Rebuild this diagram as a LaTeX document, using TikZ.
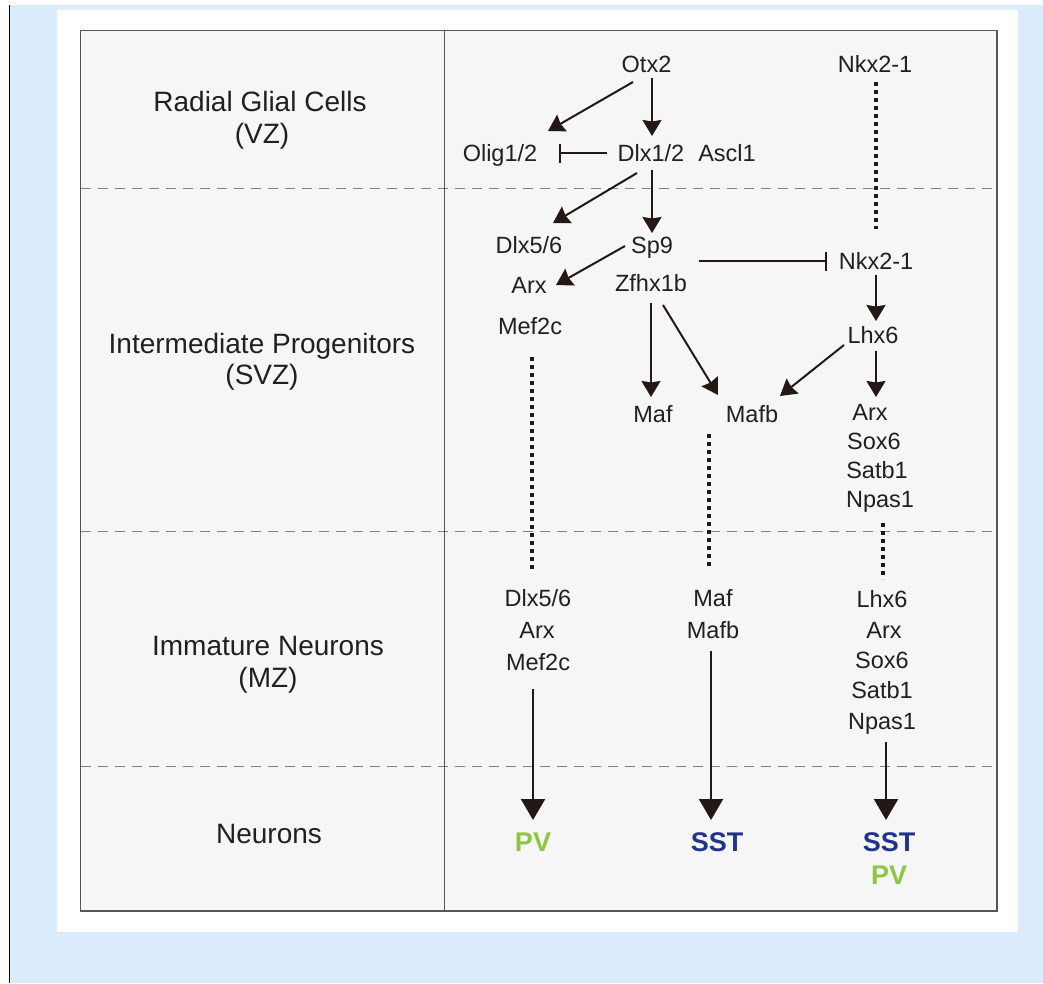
\documentclass[tikz,border=0pt]{standalone}
\usepackage{fontspec}
\setmainfont{Liberation Sans}
\usetikzlibrary{arrows.meta}
\definecolor{bgblue}{HTML}{DBECFC}
\definecolor{boxgrey}{HTML}{F6F6F6}
\definecolor{boxborder}{HTML}{555555}
\definecolor{dashgrey}{HTML}{808080}
\definecolor{ink}{HTML}{231815}
\definecolor{txt}{HTML}{231F20}
\definecolor{pvgreen}{HTML}{8DC63F}
\definecolor{sstblue}{HTML}{21338E}
\tikzset{
  lab/.style={font=\fontsize{23.5}{28}\selectfont, inner sep=0pt, text height=16.8pt, text depth=0pt, text=txt},
  biglab/.style={font=\fontsize{28}{32}\selectfont, inner sep=0pt, text height=20pt, text depth=0pt, text=txt},
  boldlab/.style={font=\fontsize{27}{30}\selectfont\bfseries, inner sep=0pt, text height=19.4pt, text depth=0pt},
  arr/.style={draw=ink, line width=2pt, -{Stealth[length=16pt,width=19pt,inset=1.5pt]}},
  inh/.style={draw=ink, line width=2pt, -{Bar[width=19pt,line width=2pt]}},
  dotl/.style={draw=ink, line width=3.4pt, dash pattern=on 4pt off 4pt},
  bigarr/.style={draw=ink, line width=2.2pt, -{Triangle[length=21pt,width=24pt]}},
  sep/.style={draw=dashgrey, line width=1pt, dash pattern=on 10pt off 7pt},
}
\begin{document}
\begin{tikzpicture}[x=1pt,y=-1pt]
\useasboundingbox (0,0) rectangle (1043,983);
\fill[white] (0,0) rectangle (1043,983);
\fill[bgblue] (10,5) rectangle (1043,983);
\draw[black, line width=1.5pt] (9.5,5) -- (9.5,983);
\fill[white] (57,10) rectangle (1018,932);
\draw[fill=boxgrey, draw=boxborder, line width=1.5pt] (80.5,30.5) rectangle (997,911);
\draw[sep] (81,188) -- (996,188);
\draw[sep] (81,531) -- (996,531);
\draw[sep] (81,766) -- (996,766);
\draw[draw=boxborder, line width=0.9pt] (444,31) -- (444,910);

% left labels
\node[biglab] (rgc) at (260,101) {Radial Glial Cells};
\node[biglab] (vz) at (262,133) {(VZ)};
\node[biglab] (ip) at (262,343) {Intermediate Progenitors};
\node[biglab] (svz) at (262,374) {(SVZ)};
\node[biglab] (imn) at (268,645) {Immature Neurons};
\node[biglab] (mz) at (268,677) {(MZ)};
\node[biglab] (neu) at (269,833) {Neurons};

% right labels
\node[lab] (otx2) at (646.5,64) {Otx2};
\node[lab] (nkxtop) at (875,64) {Nkx2-1};
\node[lab] (olig) at (500,153) {Olig1/2};
\node[lab] (dlx12) at (651,153) {Dlx1/2};
\node[lab] (ascl1) at (727,153) {Ascl1};
\node[lab] (dlx56a) at (529,245) {Dlx5/6};
\node[lab] (sp9) at (652,245) {Sp9};
\node[lab] (arxa) at (529,285) {Arx};
\node[lab] (zfhx) at (651,283) {Zfhx1b};
\node[lab] (nkx2) at (876,261) {Nkx2-1};
\node[lab] (mef2ca) at (530,326) {Mef2c};
\node[lab] (lhx6a) at (873,335) {Lhx6};
\node[lab] (mafa) at (653,414) {Maf};
\node[lab] (mafba) at (752,414) {Mafb};
\node[lab] (arxb) at (870,412) {Arx};
\node[lab] (sox6a) at (874,441) {Sox6};
\node[lab] (satb1a) at (877,470) {Satb1};
\node[lab] (npas1a) at (880,499) {Npas1};
\node[lab] (dlx56b) at (538,598) {Dlx5/6};
\node[lab] (arxc) at (537,630) {Arx};
\node[lab] (mef2cb) at (538,662) {Mef2c};
\node[lab] (mafb) at (713,598) {Maf};
\node[lab] (mafbb) at (713,630) {Mafb};
\node[lab] (lhx6b) at (882,599) {Lhx6};
\node[lab] (arxd) at (884,630) {Arx};
\node[lab] (sox6b) at (882,660) {Sox6};
\node[lab] (satb1b) at (882,690) {Satb1};
\node[lab] (npas1b) at (882,721) {Npas1};
\node[boldlab, text=pvgreen] (pv1) at (533,842) {PV};
\node[boldlab, text=sstblue] (sst1) at (717,842) {SST};
\node[boldlab, text=sstblue] (sst2) at (889,842) {SST};
\node[boldlab, text=pvgreen] (pv2) at (889,875) {PV};

% connectors
\draw[arr] ([shift={(-13.5,18)}]otx2.center) -- ([shift={(48,-22)}]olig.center);
\draw[arr] ([shift={(5.5,14)}]otx2.center) -- ([shift={(1,-17)}]dlx12.center);
\draw[inh] ([shift={(-44,0)}]dlx12.center) -- ([shift={(59,0)}]olig.center);
\draw[arr] ([shift={(-14,20)}]dlx12.center) -- ([shift={(24,-22)}]dlx56a.center);
\draw[arr] ([shift={(1,17)}]dlx12.center) -- ([shift={(0,-12)}]sp9.center);
\draw[arr] ([shift={(-27,1)}]sp9.center) -- ([shift={(27,0)}]arxa.center);
\draw[inh] ([shift={(47,16)}]sp9.center) -- ([shift={(-49,0)}]nkx2.center);
\draw[arr] ([shift={(0,20)}]zfhx.center) -- ([shift={(-2,-17)}]mafa.center);
\draw[arr] ([shift={(12,22)}]zfhx.center) -- ([shift={(-34,-19)}]mafba.center);
\draw[arr] ([shift={(-29,10)}]lhx6a.center) -- ([shift={(28,-18)}]mafba.center);
\draw[arr] ([shift={(0,14)}]nkx2.center) -- ([shift={(3,-14)}]lhx6a.center);
\draw[arr] ([shift={(3,16)}]lhx6a.center) -- ([shift={(6,-15)}]arxb.center);

\draw[dotl] ([shift={(1,18)}]nkxtop.center) -- ([shift={(0,-32)}]nkx2.center);
\draw[dotl] ([shift={(2,31)}]mef2ca.center) -- ([shift={(-6,-27)}]dlx56b.center);
\draw[dotl] ([shift={(-43,20)}]mafba.center) -- ([shift={(-4,-30)}]mafb.center);
\draw[dotl] ([shift={(3,24)}]npas1a.center) -- ([shift={(1,-20)}]lhx6b.center);

\draw[bigarr] ([shift={(-5,27)}]mef2cb.center) -- ([shift={(0,-22)}]pv1.center);
\draw[bigarr] ([shift={(-2,21)}]mafbb.center) -- ([shift={(-6,-22)}]sst1.center);
\draw[bigarr] ([shift={(4,21)}]npas1b.center) -- ([shift={(-3,-22)}]sst2.center);
\end{tikzpicture}
\end{document}
